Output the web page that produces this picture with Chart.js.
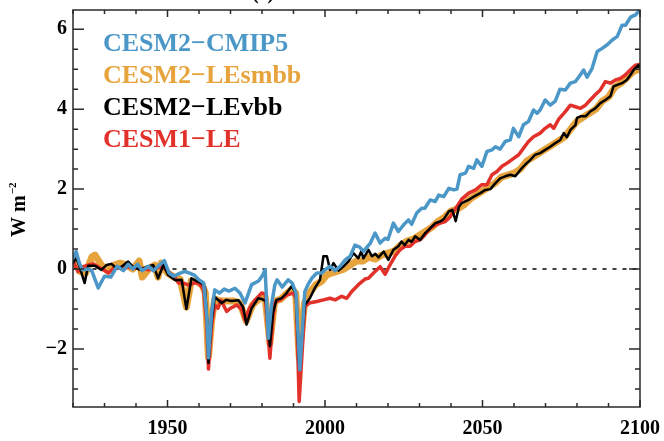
<!DOCTYPE html>
<html>
<head>
<meta charset="utf-8">
<script src="https://cdn.jsdelivr.net/npm/chart.js@4.4.1/dist/chart.umd.min.js"></script>
<style>
  html, body { margin: 0; padding: 0; background: #fff; }
  #wrap { width: 664px; height: 441px; }
</style>
</head>
<body>
<div id="wrap"><canvas id="myChart" width="664" height="441"></canvas></div>
<script>
// x range and tick labels
const xMin = 1920, xMax = 2100;
const yMin = -3.45, yMax = 6.48;
const xTicks = [1950, 2000, 2050, 2100];
const yTicks = [-2, 0, 2, 4, 6];

const seriesNames = ['CESM2\u2212CMIP5', 'CESM2\u2212LEsmbb', 'CESM2\u2212LEvbb', 'CESM1\u2212LE'];

// CESM2-CMIP5 (blue)
const cmip5Years = [1920, 1921, 1922, 1923, 1925, 1926, 1928, 1930, 1932, 1934, 1936, 1937.5, 1939, 1940.5, 1942, 1944,
  1945.5, 1947, 1949, 1950.5, 1952, 1954, 1955.5, 1957, 1958.5, 1960, 1961.5, 1962.5, 1963, 1964, 1965, 1966.5, 1968,
  1969.5, 1971.4, 1973, 1974.6, 1976.7, 1978.9, 1980, 1981, 1982, 1983, 1984.1, 1984.8, 1986.4, 1988.3, 1989.6, 1990.8,
  1992, 1993.6, 1994.6, 1995.8, 1997.4, 1999, 2000, 2001.6, 2003.2, 2004.8, 2006.4, 2008, 2009.5, 2011, 2012.2, 2014.4,
  2015.9, 2017.5, 2019.1, 2020, 2021.7, 2023.3, 2024.9, 2026.5, 2027.5, 2029.1, 2030.7, 2031.7, 2033.4, 2035, 2036.1,
  2037.7, 2039.3, 2040.9, 2041.9, 2042.9, 2044.6, 2045.6, 2047.2, 2048.2, 2049.8, 2051.4, 2053, 2054.1, 2055.6, 2057.2,
  2058.8, 2059.8, 2061.5, 2063, 2064.6, 2066.2, 2067.3, 2068.3, 2069.9, 2071.5, 2073.1, 2074.6, 2076.3, 2077.9, 2079.5,
  2081.1, 2082.1, 2083.2, 2084.8, 2086.4, 2088, 2089.6, 2091.2, 2092.8, 2094.3, 2095.4, 2097, 2098.6, 2100];
const cmip5Vals = [0.27, 0.44, 0.15, -0.02, 0.0, -0.05, -0.47, -0.18, -0.2, 0.07, -0.04, 0.12, 0.0, 0.12, -0.04, 0.07,
  -0.04, 0.07, 0.21, -0.1, -0.18, -0.1, -0.06, -0.1, -0.15, -0.27, -0.35, -1.2, -2.22, -1.1, -0.52, -0.6, -0.5,
  -0.55, -0.48, -0.6, -0.85, -0.39, -0.3, -0.18, -0.02, -1.73, -0.9, -0.39, -0.27, -0.45, -0.27, -0.35, -0.6,
  -2.52, -0.56, -0.39, -0.23, -0.1, -0.1, -0.02, 0.07, -0.04, 0.07, 0.23, 0.32, 0.6, 0.55, 0.44, 0.65,
  0.9, 0.65, 0.77, 0.74, 1.15, 0.94, 1.1, 1.23, 1.12, 1.4, 1.52, 1.52, 1.73, 1.69, 1.85,
  1.81, 2.02, 1.98, 2.0, 2.36, 2.4, 2.57, 2.52, 2.73, 2.57, 2.94, 2.98, 3.06, 3.0, 3.19,
  3.23, 3.52, 3.31, 3.61, 3.69, 3.98, 3.9, 3.98, 4.23, 4.1, 4.2, 4.5, 4.48, 4.65, 4.69,
  4.86, 4.98, 4.8, 5.02, 5.44, 5.52, 5.61, 5.73, 5.82, 6.1, 6.1, 6.3, 6.36, 6.48];

// CESM2-LEsmbb (orange)
const smbbYears = [1920, 1921, 1922, 1924, 1926, 1927, 1929, 1931, 1933, 1935, 1937, 1939, 1941, 1942, 1944, 1946, 1947,
  1948, 1950, 1952, 1954, 1956, 1957.5, 1959, 1961, 1962, 1963, 1964, 1965, 1967, 1969, 1971, 1973, 1975, 1977, 1979,
  1981, 1982.5, 1984, 1986, 1988, 1989.5, 1990.7, 1991.8, 1993.5, 1995, 1997, 1999, 2000.5, 2002, 2004, 2006, 2008,
  2010, 2012, 2014, 2016, 2018, 2020, 2022, 2024, 2026, 2028, 2030, 2032, 2034, 2036, 2038, 2040, 2042, 2044, 2046,
  2048, 2050, 2052, 2054, 2056, 2058, 2060, 2062, 2064, 2066, 2068, 2070, 2072, 2074, 2076, 2078, 2080, 2082, 2084,
  2086, 2088, 2090, 2092, 2094, 2096, 2098, 2100];
const smbbVals = [0.1, 0.25, -0.05, -0.1, 0.3, 0.35, 0.1, -0.05, 0.1, 0.15, 0.1, 0.0, 0.2, -0.2, 0.0, 0.1, -0.2,
  0.15, -0.1, -0.2, -0.25, -0.95, -0.3, -0.3, -0.4, -0.6, -2.2, -1.3, -0.75, -0.8, -0.8, -0.8, -0.85, -1.3, -0.9, -0.75,
  -0.7, -1.85, -0.8, -0.75, -0.6, -0.5, -0.6, -2.2, -0.85, -0.6, -0.4, -0.3, -0.15, -0.1, -0.05, 0.0, 0.1,
  0.2, 0.2, 0.3, 0.25, 0.35, 0.4, 0.45, 0.6, 0.7, 0.75, 0.85, 0.95, 1.05, 1.2, 1.3, 1.45, 1.5, 1.6, 1.75,
  1.85, 1.95, 2.05, 2.15, 2.3, 2.35, 2.4, 2.5, 2.7, 2.8, 2.9, 3.0, 3.1, 3.2, 3.3, 3.5, 3.7, 3.8, 3.9,
  4.0, 4.2, 4.3, 4.55, 4.65, 4.8, 4.95, 5.0];

// CESM2-LEvbb (black)
const vbbYears = [1920, 1921, 1922, 1923.7, 1924.8, 1927, 1929, 1930.6, 1932.2, 1933.8, 1935.4, 1937.5, 1939, 1941.3,
  1943.4, 1945.5, 1947, 1948.7, 1950.2, 1952.5, 1954.5, 1956, 1957.6, 1959.2, 1960.8, 1961.9, 1962.6, 1963, 1964, 1965,
  1967.2, 1968.7, 1970.2, 1972.5, 1974, 1975.1, 1976.7, 1978.8, 1980, 1981.2, 1982.5, 1983.5, 1984.6, 1986.2, 1987.8,
  1989.4, 1990.7, 1991.8, 1993.6, 1995.2, 1996.8, 1998.4, 1999.5, 2000.6, 2001.6, 2002.7, 2004.3, 2005.9, 2007.5, 2009,
  2010.6, 2011.5, 2012.2, 2013.8, 2014.9, 2016, 2017, 2018.6, 2020.1, 2021.7, 2023.3, 2024.3, 2025.3, 2026.5, 2027.5,
  2028.6, 2030.2, 2031.8, 2033.4, 2035, 2036.6, 2037.7, 2039.3, 2040.4, 2041.5, 2042.5, 2043.4, 2045.6, 2047.2, 2049.3,
  2050.9, 2052.5, 2054.1, 2055.6, 2057.2, 2058.8, 2060.4, 2062, 2063.5, 2065.2, 2066.7, 2068.3, 2069.9, 2071.5, 2073.1,
  2074.7, 2075.8, 2076.8, 2077.9, 2079.5, 2080, 2081.1, 2082.7, 2084.2, 2085.8, 2087.4, 2089, 2090.6, 2091.6, 2092.6,
  2094.3, 2095.8, 2097, 2098, 2099.5, 2100];
const vbbVals = [0.15, 0.27, 0.08, -0.35, 0.08, 0.08, -0.02, 0.1, 0.13, 0.02, 0.06, 0.19, 0.06, -0.02,
  0.06, 0.1, -0.23, 0.1, -0.15, -0.28, -0.27, -1.0, -0.23, -0.3, -0.35, -0.45, -1.3, -2.35, -1.3, -0.7,
  -0.85, -0.77, -0.8, -0.78, -0.95, -1.39, -0.98, -0.73, -0.75, -0.8, -1.93, -1.1, -0.77, -0.73, -0.6,
  -0.43, -0.6, -2.45, -0.9, -0.73, -0.47, -0.27, 0.32, 0.32, -0.02, 0.15, -0.04, 0.07, 0.2, 0.4,
  0.27, 0.44, 0.27, 0.48, 0.32, 0.38, 0.29, 0.44, 0.23, 0.48, 0.57, 0.69, 0.6, 0.73, 0.68,
  0.82, 0.73, 0.9, 1.02, 1.15, 1.19, 1.25, 1.44, 1.48, 1.2, 1.55, 1.65, 1.73, 1.81, 1.9,
  1.98, 2.0, 2.15, 2.27, 2.32, 2.36, 2.32, 2.48, 2.61, 2.73, 2.86, 2.9, 2.98, 3.06, 3.15,
  3.23, 3.4, 3.3, 3.48, 3.6, 3.78, 3.82, 3.82, 3.94, 4.02, 4.15, 4.23, 4.32, 4.57, 4.6,
  4.65, 4.73, 4.86, 4.98, 5.1, 5.05];

// CESM1-LE (red)
const le1Years = [1920, 1921.6, 1923.2, 1924.8, 1926.4, 1928, 1929.6, 1931.3, 1932.9, 1935, 1937.1, 1939.7, 1941.8,
  1943.9, 1946, 1948.2, 1950.2, 1952.3, 1953.5, 1955.1, 1956.7, 1958.3, 1959.9, 1961.4, 1962.4, 1963, 1964, 1965, 1966,
  1967, 1968.8, 1970, 1972, 1973.5, 1974.6, 1976, 1977.8, 1979.9, 1981, 1982.5, 1983.5, 1984.1, 1985.7, 1987.8, 1989.9,
  1990.9, 1991.8, 1993.6, 1995, 1997.4, 1999.5, 2001.6, 2003.2, 2005.3, 2006.9, 2008.5, 2010.6, 2012.7, 2013.8, 2015.4,
  2017.5, 2019.1, 2020.6, 2022.2, 2023.8, 2025.4, 2027, 2028.6, 2030.2, 2031.8, 2033.4, 2035, 2036.6, 2038.2, 2039.8,
  2041.3, 2043.4, 2045.6, 2047.8, 2049.8, 2051.4, 2053, 2054.6, 2056.2, 2057.8, 2059.9, 2061.5, 2063, 2064.6, 2066.2,
  2068.3, 2069.9, 2071.5, 2072.6, 2074.2, 2076.3, 2077.9, 2079.5, 2081.1, 2082.7, 2084.2, 2085.8, 2087.4, 2089, 2090.6,
  2092.2, 2093.8, 2095.4, 2096.9, 2098.5, 2100];
const le1Vals = [0.19, -0.06, 0.06, 0.1, 0.13, 0.06, -0.02, -0.1, 0.02, 0.02, 0.06, 0.02, 0.02,
  -0.02, 0.02, 0.06, -0.06, -0.2, -0.35, -0.35, -0.4, -0.35, -0.35, -0.5, -1.3, -2.5, -1.4, -0.9, -0.98,
  -0.78, -1.06, -0.98, -0.9, -1.0, -1.27, -0.98, -0.77, -0.6, -0.62, -2.23, -1.2, -0.83, -0.77, -0.65, -0.6,
  -0.75, -3.31, -0.94, -0.85, -0.81, -0.77, -0.73, -0.77, -0.68, -0.73, -0.56, -0.39, -0.25, -0.23, -0.1,
  0.06, -0.13, 0.1, 0.32, 0.48, 0.57, 0.57, 0.69, 0.73, 0.86, 1.02, 1.1, 1.15, 1.19, 1.31,
  1.5, 1.75, 1.9, 1.98, 2.11, 2.11, 2.36, 2.44, 2.57, 2.65, 2.77, 2.86, 3.02, 3.19, 3.31,
  3.4, 3.52, 3.61, 3.52, 3.75, 3.94, 4.1, 4.06, 4.02, 4.1, 4.23, 4.36, 4.48, 4.69, 4.65,
  4.73, 4.77, 4.86, 4.98, 5.1, 5.12];

const zeroLine = [0, 0];

const colors = {
  cmip5: '#4b97c8',
  smbb: '#e7a33c',
  vbb: '#000000',
  le1: '#e2312a'
};

function pts(xs, ys) {
  return xs.map((x, i) => ({ x: x, y: ys[i] }));
}

const fontFamily = '"Liberation Serif", "Times New Roman", serif';

// inward ticks on all four sides, frame, y title, legend text
const framePlugin = {
  id: 'frame',
  afterDraw(chart) {
    const ctx = chart.ctx;
    const a = chart.chartArea;
    const xs = chart.scales.x, ys = chart.scales.y;
    ctx.save();
    ctx.strokeStyle = '#2a2a2a';
    ctx.lineWidth = 1.5;
    ctx.strokeRect(a.left, a.top, a.right - a.left, a.bottom - a.top);

    ctx.beginPath();
    for (let yr = 1920; yr <= 2100; yr += 10) {
      const px = xs.getPixelForValue(yr);
      const len = yr % 50 === 0 ? 7 : 4;
      ctx.moveTo(px, a.bottom); ctx.lineTo(px, a.bottom - len);
      ctx.moveTo(px, a.top); ctx.lineTo(px, a.top + len);
    }
    for (let v = -3; v <= 6.001; v += 0.5) {
      const py = ys.getPixelForValue(v);
      const len = Math.abs(v % 2) < 0.001 ? 11 : 5;
      ctx.moveTo(a.left, py); ctx.lineTo(a.left + len, py);
      ctx.moveTo(a.right, py); ctx.lineTo(a.right - len, py);
    }
    ctx.stroke();

    // y axis title: W m^-2
    ctx.fillStyle = '#000';
    ctx.translate(25, 237);
    ctx.rotate(-Math.PI / 2);
    ctx.font = 'bold 20px ' + fontFamily;
    ctx.textBaseline = 'alphabetic';
    ctx.fillText('W m', 0, 0);
    const w = ctx.measureText('W m').width;
    ctx.font = 'bold 11px ' + fontFamily;
    ctx.fillText('\u22122', w + 1, -9);
    ctx.restore();

    // panel label, mostly cut off at the top edge
    ctx.save();
    ctx.fillStyle = '#000';
    ctx.font = 'bold 20px ' + fontFamily;
    ctx.textAlign = 'center';
    ctx.textBaseline = 'alphabetic';
    ctx.fillText('(c)', 263, -1);
    ctx.restore();

    // legend text
    ctx.save();
    ctx.font = 'bold 26px ' + fontFamily;
    ctx.textBaseline = 'alphabetic';
    const legendColors = [colors.cmip5, colors.smbb, colors.vbb, colors.le1];
    seriesNames.forEach((name, i) => {
      ctx.fillStyle = legendColors[i];
      ctx.fillText(name, 103, 51 + i * 32);
    });
    ctx.restore();
  }
};

const data = {
  datasets: [
    {
      label: seriesNames[0],
      data: pts(cmip5Years, cmip5Vals),
      borderColor: colors.cmip5,
      borderWidth: 3.5,
      order: 0
    },
    {
      label: seriesNames[2],
      data: pts(vbbYears, vbbVals),
      borderColor: colors.vbb,
      borderWidth: 2.5,
      order: 1
    },
    {
      label: seriesNames[3],
      data: pts(le1Years, le1Vals),
      borderColor: colors.le1,
      borderWidth: 3.5,
      order: 2
    },
    {
      label: seriesNames[1],
      data: pts(smbbYears, smbbVals),
      borderColor: colors.smbb,
      borderWidth: 7,
      order: 3
    },
    {
      label: 'zero',
      data: pts([xMin, xMax], zeroLine),
      borderColor: '#000',
      borderWidth: 1.5,
      borderDash: [3, 7],
      order: 4
    }
  ]
};

const config = {
  type: 'line',
  data: data,
  options: {
    responsive: false,
    animation: false,
    layout: { padding: { top: 10, right: 24, left: 0, bottom: 0 } },
    elements: {
      point: { radius: 0 },
      line: { tension: 0, borderJoinStyle: 'round', borderCapStyle: 'round' }
    },
    plugins: {
      legend: { display: false },
      tooltip: { enabled: false },
      title: { display: false }
    },
    scales: {
      x: {
        type: 'linear',
        min: xMin,
        max: xMax,
        grid: { display: false, drawTicks: false },
        border: { display: false },
        afterBuildTicks: (s) => { s.ticks = xTicks.map(v => ({ value: v })); },
        afterFit: (s) => { s.height = 34; s.paddingLeft = 0; s.paddingRight = 0; },
        ticks: {
          padding: 10,
          color: '#000',
          font: { family: fontFamily, size: 20, weight: 'bold' },
          callback: (v) => String(v),
          maxRotation: 0
        }
      },
      y: {
        min: yMin,
        max: yMax,
        grid: { display: false, drawTicks: false },
        border: { display: false },
        afterBuildTicks: (s) => { s.ticks = yTicks.map(v => ({ value: v })); },
        afterFit: (s) => { s.width = 73; s.paddingTop = 0; s.paddingBottom = 0; },
        ticks: {
          padding: 6,
          color: '#000',
          font: { family: fontFamily, size: 20, weight: 'bold' },
          callback: (v) => v < 0 ? '\u2212' + Math.abs(v) : String(v)
        }
      }
    }
  },
  plugins: [framePlugin]
};

const myChart = new Chart(document.getElementById('myChart'), config);
</script>
</body>
</html>
